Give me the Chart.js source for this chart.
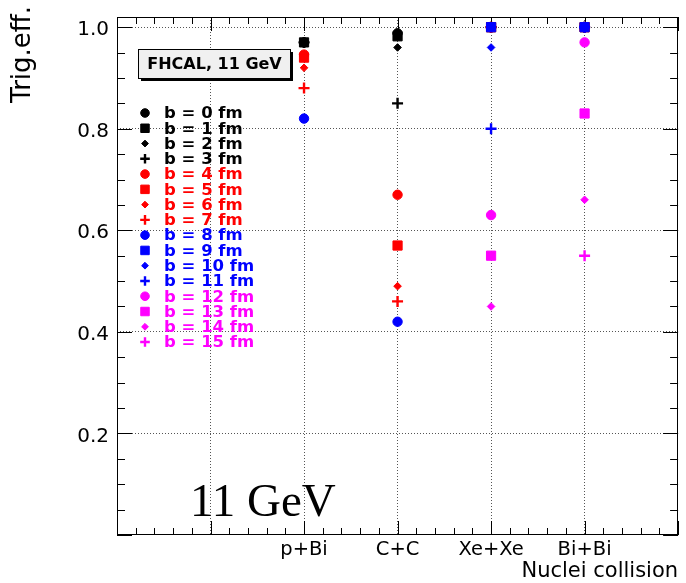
<!DOCTYPE html>
<html><head><meta charset="utf-8">
<script src="https://cdn.jsdelivr.net/npm/chart.js@4/dist/chart.umd.min.js"></script>
<style>html,body{margin:0;padding:0;background:#fff;}canvas{display:block;}</style>
</head><body>
<canvas id="c" width="686" height="583" style="width:686px;height:583px"></canvas>
<script>
// ---- data ----
const categories = ['p+Bi', 'C+C', 'Xe+Xe', 'Bi+Bi'];
const impactParams = [0, 1, 2, 3, 4, 5, 6, 7, 8, 9, 10, 11, 12, 13, 14, 15];
const b0  = [0.970, 0.988, 1.000, 1.000];
const b1  = [0.970, 0.982, 1.000, 1.000];
const b2  = [0.970, 0.960, 1.000, 1.000];
const b3  = [0.970, 0.850, 1.000, 1.000];
const b4  = [0.946, 0.670, 1.000, 1.000];
const b5  = [0.940, 0.570, 1.000, 1.000];
const b6  = [0.920, 0.490, 1.000, 1.000];
const b7  = [0.880, 0.460, 1.000, 1.000];
const b8  = [0.820, 0.420, 1.000, 1.000];
const b9  = [null, null, 1.000, 1.000];
const b10 = [null, null, 0.960, 1.000];
const b11 = [null, null, 0.800, 1.000];
const b12 = [null, null, 0.630, 0.970];
const b13 = [null, null, 0.550, 0.830];
const b14 = [null, null, 0.450, 0.660];
const b15 = [null, null, null, 0.550];
const seriesValues = [b0, b1, b2, b3, b4, b5, b6, b7, b8, b9, b10, b11, b12, b13, b14, b15];
const yTickValues = [0.2, 0.4, 0.6, 0.8, 1.0];
const yTickLabels = ['0.2', '0.4', '0.6', '0.8', '1.0'];
const xTitle = 'Nuclei collision';
const yTitle = 'Trig.eff.';
const boxLabel = 'FHCAL, 11 GeV';
const energyLabel = '11 GeV';

// ---- styles ----
const groupColors = ['#000000', '#ff0000', '#0000ff', '#ff00ff'];
const shapes = ['circle', 'rect', 'rectRot', 'cross'];
const radii = { circle: 4.7, rect: 6.5, rectRot: 3.8, cross: 5.5 };
const borderW = { circle: 1, rect: 1, rectRot: 1, cross: 2.4 };
const FONT = "'DejaVu Sans', sans-serif";

const datasets = impactParams.map((b, i) => {
  const shape = shapes[i % 4];
  const col = groupColors[Math.floor(i / 4)];
  const pts = [];
  categories.forEach((c, j) => {
    const v = seriesValues[i][j];
    if (v !== null) pts.push({ x: j + 1, y: v });
  });
  return {
    label: 'b = ' + b + ' fm',
    data: pts,
    showLine: false,
    pointStyle: shape,
    pointRadius: radii[shape],
    pointHoverRadius: radii[shape],
    pointBorderWidth: borderW[shape],
    backgroundColor: col,
    borderColor: col,
    order: impactParams.length - 1 - i
  };
});

function drawMarker(ctx, shape, x, y, r, bw, col) {
  ctx.save();
  ctx.fillStyle = col; ctx.strokeStyle = col; ctx.lineWidth = bw;
  ctx.beginPath();
  if (shape === 'circle') {
    ctx.arc(x, y, r, 0, Math.PI * 2); ctx.fill(); ctx.stroke();
  } else if (shape === 'rect') {
    const s = r * Math.SQRT1_2;
    ctx.rect(x - s, y - s, 2 * s, 2 * s); ctx.fill(); ctx.stroke();
  } else if (shape === 'rectRot') {
    ctx.moveTo(x, y - r); ctx.lineTo(x + r, y); ctx.lineTo(x, y + r); ctx.lineTo(x - r, y);
    ctx.closePath(); ctx.fill(); ctx.stroke();
  } else {
    ctx.moveTo(x - r, y); ctx.lineTo(x + r, y); ctx.moveTo(x, y - r); ctx.lineTo(x, y + r);
    ctx.stroke();
  }
  ctx.restore();
}

const frameTicks = {
  id: 'frameTicks',
  beforeDatasetsDraw(chart) {
    const { ctx, chartArea: a, scales: { x, y } } = chart;
    ctx.save();
    ctx.strokeStyle = '#000'; ctx.lineWidth = 1;
    ctx.beginPath();
    for (let k = 0; k <= 30; k++) {
      const v = x.min + k * 0.2;
      const px = Math.round(x.getPixelForValue(v)) + 0.5;
      const len = (k % 5 === 0) ? 14 : 7;
      ctx.moveTo(px, a.bottom); ctx.lineTo(px, a.bottom - len);
      ctx.moveTo(px, a.top); ctx.lineTo(px, a.top + len);
    }
    for (let k = 0; k <= 20; k++) {
      const v = k * 0.05;
      const py = Math.round(y.getPixelForValue(v)) + 0.5;
      const len = (k % 4 === 0) ? 15 : 8;
      ctx.moveTo(a.left, py); ctx.lineTo(a.left + len, py);
      ctx.moveTo(a.right, py); ctx.lineTo(a.right - len, py);
    }
    ctx.stroke();
    ctx.strokeRect(Math.round(a.left) + 0.5, Math.round(a.top) + 0.5,
      Math.round(a.right - a.left) - 1, Math.round(a.bottom - a.top) - 1);
    ctx.restore();
  },
  afterDatasetsDraw(chart) {
    const { ctx } = chart;
    ctx.save();
    // FHCAL box with shadow
    ctx.fillStyle = '#000';
    ctx.fillRect(141, 52, 152, 29);
    ctx.fillStyle = '#f0f0f0';
    ctx.fillRect(138, 49, 152, 29);
    ctx.strokeStyle = '#000'; ctx.lineWidth = 1;
    ctx.strokeRect(138.5, 49.5, 152, 29);
    ctx.fillStyle = '#000';
    ctx.font = "bold 16px " + FONT;
    ctx.textAlign = 'center'; ctx.textBaseline = 'middle';
    ctx.fillText(boxLabel, 214.5, 64.5);
    // legend
    ctx.font = "bold 16.5px " + FONT;
    ctx.textAlign = 'left'; ctx.textBaseline = 'middle';
    chart.data.datasets.forEach((ds, i) => {
      const yy = 113 + i * 15.27;
      const r = ds.pointStyle === 'rect' ? 6 : ds.pointStyle === 'circle' ? 4.3 : ds.pointStyle === 'cross' ? 4.8 : 3.4;
      drawMarker(ctx, ds.pointStyle, 145, yy, r, ds.pointBorderWidth, ds.backgroundColor);
      ctx.fillStyle = ds.backgroundColor;
      ctx.fillText(ds.label, 164, yy + 1);
    });
    // big energy label
    ctx.fillStyle = '#000';
    ctx.font = "47px 'Liberation Serif', 'Times New Roman', serif";
    ctx.textAlign = 'left'; ctx.textBaseline = 'alphabetic';
    ctx.fillText(energyLabel, 190, 516);
    // y title
    ctx.translate(30, 6);
    ctx.rotate(-Math.PI / 2);
    ctx.font = "26px " + FONT;
    ctx.textAlign = 'right'; ctx.textBaseline = 'alphabetic';
    ctx.fillText(yTitle, 0, 0);
    ctx.restore();
  }
};

new Chart(document.getElementById('c'), {
  type: 'scatter',
  data: { datasets },
  options: {
    responsive: false,
    animation: false,
    events: [],
    layout: { padding: { left: 0, right: 6, top: 17, bottom: 0 } },
    plugins: { legend: { display: false }, tooltip: { enabled: false } },
    scales: {
      x: {
        type: 'linear', min: -1, max: 5,
        afterFit(s) { s.height = 48; s.paddingLeft = 0; s.paddingRight = 0; },
        ticks: {
          stepSize: 1, autoSkip: false, maxRotation: 0, padding: 3,
          color: '#000', font: { family: FONT, size: 19.5 },
          callback: (v) => { const i = Math.round(v) - 1; return (Math.abs(v - Math.round(v)) < 1e-6 && i >= 0 && i < categories.length) ? categories[i] : ''; }
        },
        grid: {
          drawTicks: false, lineWidth: 1,
          color: (c) => (c.tick && c.tick.value > -0.5 && c.tick.value < 4.5) ? '#555' : 'rgba(0,0,0,0)'
        },
        border: { display: false, dash: [1, 2] },
        title: { display: true, text: xTitle, align: 'end', color: '#000', font: { family: FONT, size: 21, lineHeight: 1 }, padding: { top: 0, bottom: 1 } }
      },
      y: {
        type: 'linear', min: 0, max: 1.02,
        afterFit(s) { s.width = 117; s.paddingTop = 0; s.paddingBottom = 0; },
        ticks: {
          stepSize: 0.2, includeBounds: false, autoSkip: false, padding: 8, labelOffset: 3,
          color: '#000', font: { family: FONT, size: 20 },
          callback: (v) => { const i = yTickValues.findIndex(t => Math.abs(t - v) < 1e-6); return i >= 0 ? yTickLabels[i] : ''; }
        },
        grid: {
          drawTicks: false, lineWidth: 1,
          color: (c) => (c.tick && c.tick.value > 0.1) ? '#555' : 'rgba(0,0,0,0)'
        },
        border: { display: false, dash: [1, 2] }
      }
    }
  },
  plugins: [frameTicks]
});
</script>
</body></html>
